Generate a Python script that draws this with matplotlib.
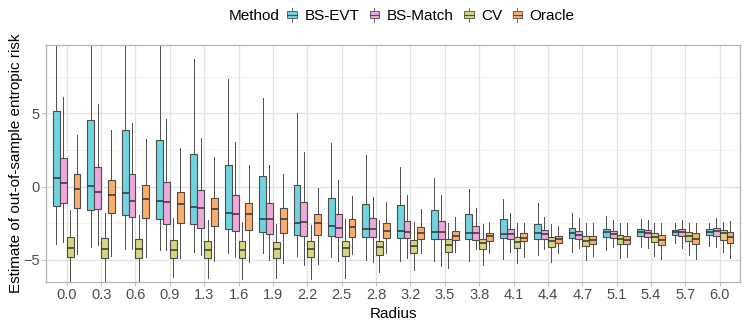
import matplotlib
matplotlib.use("Agg")
import matplotlib.pyplot as plt
from matplotlib.legend_handler import HandlerBase
from matplotlib.patches import Rectangle, Patch
from matplotlib.lines import Line2D

plt.rcParams["font.family"] = ["Liberation Sans", "DejaVu Sans"]

radius = ["0.0", "0.3", "0.6", "0.9", "1.3", "1.6", "1.9", "2.2", "2.5", "2.8",
          "3.2", "3.5", "3.8", "4.1", "4.4", "4.7", "5.1", "5.4", "5.7", "6.0"]
methods = ["BS-EVT", "BS-Match", "CV", "Oracle"]
colors = ["#6FD4DF", "#EDA9DB", "#D6D67C", "#FDAD6B"]

# box statistics (whisker low, q1, median, q3, whisker high)
evt_lo = [-3.90, -4.13, -4.25, -4.32, -4.43, -4.50, -4.54, -4.70, -4.82, -5.00,
          -5.04, -5.04, -5.04, -4.93, -4.66, -4.43, -4.32, -4.09, -3.86, -4.04]
evt_q1 = [-1.29, -1.61, -1.93, -2.23, -2.56, -2.90, -3.11, -3.29, -3.38, -3.41,
          -3.52, -3.59, -3.59, -3.52, -3.57, -3.50, -3.43, -3.36, -3.31, -3.31]
evt_med = [0.61, 0.07, -0.45, -0.95, -1.40, -1.81, -2.20, -2.47, -2.70, -2.88,
           -3.00, -3.09, -3.13, -3.23, -3.18, -3.13, -3.11, -3.07, -3.11, -3.07]
evt_q3 = [5.16, 4.57, 3.86, 3.18, 2.21, 1.50, 0.71, 0.11, -0.79, -1.16,
          -1.23, -1.61, -1.88, -2.23, -2.56, -2.79, -2.86, -2.88, -2.93, -2.88]
evt_hi = [11.0, 11.0, 11.0, 11.0, 8.70, 7.32, 6.07, 5.05, 2.98, 2.14,
          1.34, 0.61, -0.16, -0.86, -1.13, -1.77, -2.00, -2.20, -2.45, -2.45]

match_lo = [-3.80, -3.97, -4.25, -4.32, -4.66, -4.82, -5.00, -5.34, -5.04, -5.11,
            -4.88, -5.41, -4.27, -4.45, -4.27, -4.20, -4.13, -4.20, -4.16, -4.09]
match_q1 = [-1.13, -1.54, -2.04, -2.52, -2.84, -3.04, -3.25, -3.36, -3.45, -3.45,
            -3.52, -3.57, -3.63, -3.57, -3.59, -3.57, -3.48, -3.43, -3.36, -3.36]
match_med = [0.27, -0.36, -1.00, -1.07, -1.43, -1.88, -2.20, -2.38, -2.82, -2.88,
             -3.11, -3.11, -3.18, -3.23, -3.23, -3.29, -3.23, -3.16, -3.11, -3.02]
match_q3 = [1.96, 1.34, 0.84, 0.34, -0.20, -0.57, -1.13, -1.04, -1.84, -2.16,
            -2.32, -2.34, -2.70, -2.88, -2.95, -3.00, -3.00, -2.95, -2.88, -2.84]
match_hi = [6.13, 5.64, 4.37, 4.59, 3.34, 3.03, 1.48, 2.34, 0.46, -0.68,
            -0.57, -0.57, -1.47, -1.81, -2.09, -2.16, -2.27, -2.27, -2.27, -2.11]

cv_lo = [-7.5, -7.5, -7.5, -6.18, -6.25, -6.29, -6.25, -6.32, -6.25, -5.84,
         -5.68, -5.56, -5.34, -5.22, -5.11, -5.00, -4.88, -4.72, -4.66, -4.43]
cv_q1 = [-4.79, -4.84, -4.84, -4.84, -4.84, -4.84, -4.84, -4.82, -4.72, -4.66,
         -4.54, -4.43, -4.27, -4.20, -4.13, -4.02, -3.91, -3.79, -3.70, -3.63]
cv_med = [-4.16, -4.25, -4.27, -4.32, -4.32, -4.32, -4.25, -4.25, -4.20, -4.09,
          -4.07, -4.00, -3.86, -3.79, -3.72, -3.68, -3.54, -3.45, -3.34, -3.18]
cv_q3 = [-3.41, -3.52, -3.54, -3.63, -3.72, -3.72, -3.75, -3.72, -3.70, -3.68,
         -3.66, -3.59, -3.54, -3.45, -3.45, -3.36, -3.29, -3.18, -3.07, -2.95]
cv_hi = [-1.59, -1.81, -1.95, -2.16, -2.27, -2.41, -2.54, -2.61, -2.20, -2.29,
         -2.38, -2.45, -2.57, -2.45, -2.54, -2.50, -2.50, -2.50, -2.50, -2.38]

oracle_lo = [-4.61, -4.72, -4.82, -4.88, -5.04, -5.11, -5.18, -5.29, -4.59, -4.54,
             -4.54, -4.45, -4.54, -4.77, -4.54, -4.72, -4.77, -4.95, -4.93, -4.84]
oracle_q1 = [-1.47, -1.81, -2.16, -2.45, -2.68, -2.95, -3.13, -3.27, -3.41, -3.50,
             -3.59, -3.66, -3.70, -3.72, -3.86, -3.91, -3.91, -3.98, -3.91, -3.86]
oracle_med = [-0.16, -0.55, -0.86, -1.18, -1.52, -1.86, -2.23, -2.50, -2.77, -3.02,
              -3.16, -3.34, -3.38, -3.50, -3.59, -3.63, -3.61, -3.63, -3.57, -3.45]
oracle_q3 = [0.84, 0.46, 0.09, -0.38, -0.77, -1.13, -1.47, -1.86, -2.20, -2.47,
             -2.75, -3.02, -3.13, -3.18, -3.34, -3.34, -3.34, -3.27, -3.18, -3.11]
oracle_hi = [3.52, 3.86, 3.25, 2.61, 2.05, 1.46, 0.87, -0.11, -0.61, -1.07,
             -1.52, -2.09, -2.43, -2.45, -2.68, -2.45, -2.50, -2.50, -2.45, -2.34]

stats_by_method = [
    (evt_lo, evt_q1, evt_med, evt_q3, evt_hi),
    (match_lo, match_q1, match_med, match_q3, match_hi),
    (cv_lo, cv_q1, cv_med, cv_q3, cv_hi),
    (oracle_lo, oracle_q1, oracle_med, oracle_q3, oracle_hi),
]

edge = "#4D4D4D"


class BoxKey(HandlerBase):
    # small boxplot glyph like the ggplot legend key
    def create_artists(self, legend, orig_handle, xdescent, ydescent,
                       width, height, fontsize, trans):
        cx = -xdescent + width / 2
        bw = width * 0.8
        y0 = -ydescent
        box = Rectangle((cx - bw / 2, y0 + height * 0.2), bw, height * 0.6,
                        facecolor=orig_handle.get_facecolor(), edgecolor=edge,
                        linewidth=0.6, transform=trans)
        wh = Line2D([cx, cx], [y0 - height * 0.1, y0 + height * 1.1],
                    color=edge, linewidth=0.6, transform=trans)
        med = Line2D([cx - bw / 2, cx + bw / 2], [y0 + height / 2] * 2,
                     color=edge, linewidth=0.8, transform=trans)
        return [wh, box, med]


fig = plt.figure(figsize=(7.47, 3.29), dpi=100)
ax = fig.add_axes([0.0617, 0.1429, 0.9294, 0.7203])

ax.set_axisbelow(True)
ax.set_yticks([-2.5, 2.5, 7.5], minor=True)
ax.grid(True, which="major", color="#E3E3E3", linewidth=0.9)
ax.grid(True, which="minor", axis="y", color="#EFEFEF", linewidth=0.6)

n = len(radius)
w = 0.2
offsets = [-0.3, -0.1, 0.1, 0.3]
for m, (lo, q1, med, q3, hi) in enumerate(stats_by_method):
    stats = []
    for i in range(n):
        stats.append(dict(whislo=lo[i], q1=q1[i], med=med[i], q3=q3[i], whishi=hi[i]))
    pos = [i + offsets[m] for i in range(n)]
    ax.bxp(stats, positions=pos, widths=w, patch_artist=True, showfliers=False,
           showcaps=False, manage_ticks=False,
           boxprops=dict(facecolor=colors[m], edgecolor=edge, linewidth=0.8),
           whiskerprops=dict(color=edge, linewidth=0.7),
           medianprops=dict(color="#333333", linewidth=1.1))

ax.set_xlim(-0.6, n - 0.4)
ax.set_ylim(-6.5, 9.66)
ax.set_xticks(range(n))
ax.set_xticklabels(radius)
ax.set_yticks([-5, 0, 5])
ax.tick_params(axis="both", labelsize=10.5, labelcolor="#4D4D4D", color="#B3B3B3",
               length=3, width=0.6, pad=1.5)
ax.tick_params(which="minor", length=0)
for s in ax.spines.values():
    s.set_color("#B3B3B3")
    s.set_linewidth(0.9)

ax.set_xlabel("Radius", fontsize=11, labelpad=3.5)
ax.set_ylabel("Estimate of out-of-sample entropic risk", fontsize=11, labelpad=0)

handles = [Patch(facecolor=c, edgecolor=edge) for c in colors]
fig.text(229 / 747, 1 - 16 / 329, "Method", fontsize=11, va="center", ha="left")
fig.legend(handles, methods, handler_map={Patch: BoxKey()}, ncol=4, frameon=False,
           loc="center left", bbox_to_anchor=(286 / 747, 1 - 16 / 329),
           fontsize=11, handlelength=0.8, handleheight=0.8, handletextpad=0.4,
           columnspacing=0.6, borderpad=0, borderaxespad=0)

fig.savefig("out.png", dpi=100)
